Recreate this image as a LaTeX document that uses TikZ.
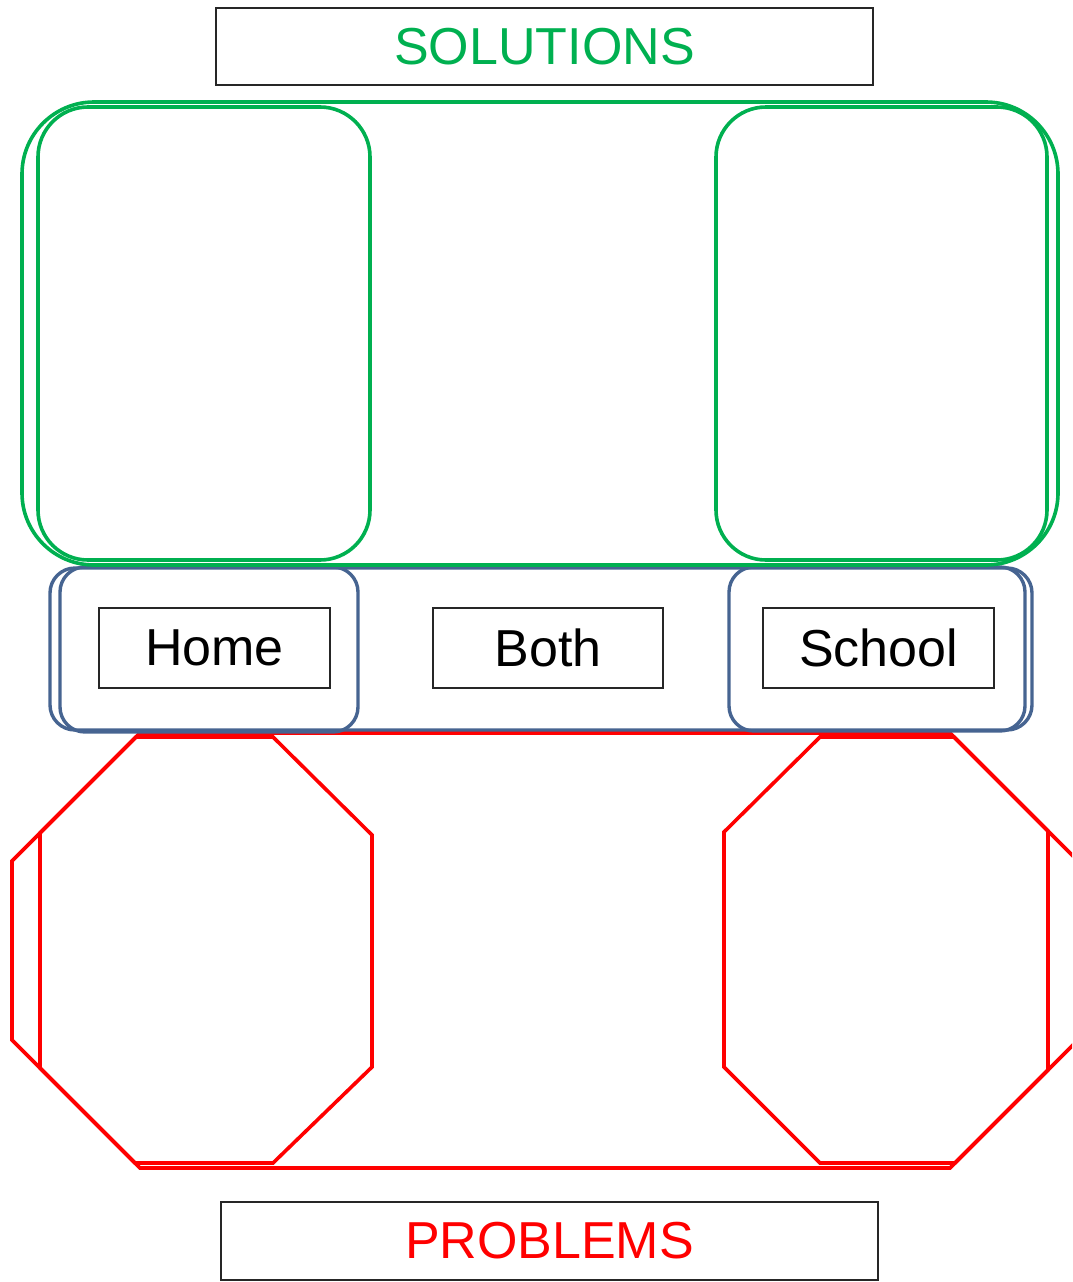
\documentclass[tikz,border=0pt]{standalone}
\usepackage{fontspec}
\setmainfont{Liberation Sans}
\definecolor{solgreen}{RGB}{0,176,80}
\definecolor{bandblue}{RGB}{70,100,145}
\definecolor{probred}{RGB}{255,0,0}
\begin{document}
\begin{tikzpicture}[x=1pt,y=-1pt,
  labelbox/.style={draw=black!85,line width=1.6pt,inner sep=0pt,
    font=\fontsize{52}{60}\selectfont},
  greenbox/.style={draw=solgreen,line width=3.6pt,inner sep=0pt},
  bluebox/.style={draw=bandblue,line width=3.4pt,inner sep=0pt,rounded corners=25pt},
  redline/.style={draw=probred,line width=3.6pt,line join=miter}]
\useasboundingbox (0,0) rectangle (1072,1282);
\clip (0,0) rectangle (1072,1282);
% red octagons (problems)
\draw[redline] (140,733) -- (950,733) -- (1077,860) -- (1077,1041) -- (950,1168)
  -- (140,1168) -- (12,1040) -- (12,861) -- cycle;
\draw[redline] (136,737) -- (273,737) -- (372,835) -- (372,1067) -- (273,1163)
  -- (135,1163) -- (40,1068) -- (40,833) -- cycle;
\draw[redline] (820,737) -- (954,737) -- (1048,831) -- (1048,1070) -- (955,1163)
  -- (820,1163) -- (724,1067) -- (724,832) -- cycle;
% blue band
\node[bluebox,minimum width=982pt,minimum height=162pt] (band) at (541,649) {};
\node[bluebox,minimum width=298pt,minimum height=165pt] (homeframe) at (209,649.5) {};
\node[bluebox,minimum width=296pt,minimum height=164pt] (schoolframe) at (877,649) {};
% green boxes (solutions)
\node[greenbox,rounded corners=72pt,minimum width=1036pt,minimum height=463pt] (solall) at (540,333.5) {};
\node[greenbox,rounded corners=50pt,minimum width=332pt,minimum height=453pt] (solhome) at (204,333.5) {};
\node[greenbox,rounded corners=50pt,minimum width=331pt,minimum height=453pt] (solschool) at (881.5,333.5) {};
% labels
\node[labelbox,minimum width=657pt,minimum height=77pt,text=solgreen] (solutions) at (544.5,46.5) {SOLUTIONS};
\node[labelbox,minimum width=657pt,minimum height=78pt,text=probred] (problems) at (549.5,1241) {PROBLEMS};
\node[labelbox,minimum width=231pt,minimum height=80pt] (home) at (214.5,648) {Home};
\node[labelbox,minimum width=230pt,minimum height=80pt] (both) at (548,648) {Both};
\node[labelbox,minimum width=231pt,minimum height=80pt] (school) at (878.5,648) {School};
\end{tikzpicture}
\end{document}
